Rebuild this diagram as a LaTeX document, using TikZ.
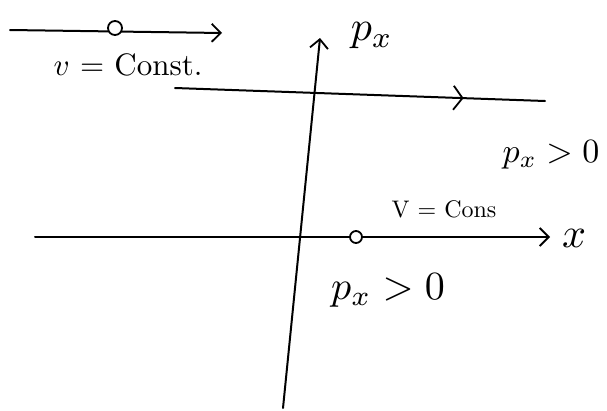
\documentclass[tikz,border=0pt]{standalone}
\usepackage{graphicx}
\usetikzlibrary{arrows.meta,decorations.markings}
\begin{document}
\begin{tikzpicture}[x=1pt,y=-1pt,
  ink/.style={line width=2pt,black,line cap=round},
  openhead/.style={-{Straight Barb[length=9pt,width=18pt,line width=1.8pt]}},
  midhead/.style={postaction={decorate},decoration={markings,mark=at position 0.78 with {\arrow{Straight Barb[length=9pt,width=24pt,line width=1.8pt]}}}},
  dot/.style={circle,draw,line width=1.8pt,inner sep=0pt,minimum size=#1},
  lbl/.style={inner sep=1pt},
  fs/.style={font=\fontsize{#1}{#1}\selectfont}]
\useasboundingbox (0,0) rectangle (607,410);
% top particle line
\coordinate (t0) at (10,30);
\coordinate (t1) at (222,33);
\draw[ink,openhead] (t0) -- (t1);
\node[dot=14pt,fill=white] (p1) at (115,28) {};
\node[lbl] (l1) at (128,65) {\scalebox{3.1}{$v$ = Const.}};
% second line
\coordinate (s0) at (175,88);
\coordinate (s1) at (545,101);
\draw[ink,midhead] (s0) -- (s1);
% y axis
\coordinate (yb) at (283,408);
\coordinate (yt) at (320,38);
\draw[ink,openhead] (yb) -- (yt);
\node[lbl] (ly) at (372,36) {\scalebox{4.2}{$p_x$}};
% x axis
\coordinate (x0) at (35,237);
\coordinate (x1) at (550,237);
\draw[ink,openhead] (x0) -- (x1);
\node[lbl] (lx) at (574,238) {\scalebox{4.2}{$x$}};
\node[dot=12pt,fill=white] (p2) at (356,237) {};
\node[lbl] (l2) at (444,209) {\scalebox{2.4}{V = Cons}};
\node[lbl] (l3) at (551,155) {\scalebox{3.4}{$p_x > 0$}};
\node[lbl] (l4) at (388,290) {\scalebox{4.0}{$p_x > 0$}};
\end{tikzpicture}
\end{document}
